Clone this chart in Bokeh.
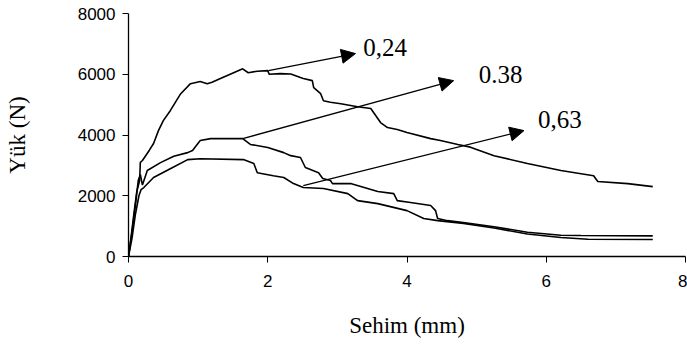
from bokeh.plotting import figure
from bokeh.models import Arrow, NormalHead, Label, Range1d, FixedTicker
from bokeh.embed import file_html
from bokeh.resources import INLINE

# Curve 0,24
x_024 = [0, 0.04, 0.08, 0.12, 0.16, 0.17, 0.2, 0.3, 0.36, 0.43, 0.5, 0.6, 0.75, 0.89, 1.03, 1.13, 1.2, 1.32,
         1.51, 1.64, 1.72, 1.85, 2.0, 2.02, 2.18, 2.33, 2.47, 2.51, 2.64, 2.66, 2.76, 2.8, 2.9, 3.05, 3.29,
         3.48, 3.55, 3.62, 3.72, 3.86, 4.0, 4.34, 4.48, 4.73, 4.91, 5.25, 5.73, 6.21, 6.68, 6.74, 7.17, 7.53]
y_024 = [0, 700, 1450, 2150, 2500, 3100, 3160, 3500, 3720, 4145, 4474, 4800, 5360, 5690, 5760, 5690, 5740, 5860,
         6050, 6180, 6050, 6100, 6120, 6000, 6020, 6010, 5890, 5860, 5790, 5560, 5360, 5130, 5080, 5030, 4930,
         4870, 4640, 4410, 4245, 4180, 4080, 3880, 3820, 3690, 3600, 3320, 3060, 2830, 2660, 2470, 2400, 2300]

# Curve 0.38
x_038 = [0, 0.05, 0.1, 0.14, 0.17, 0.2, 0.27, 0.46, 0.65, 0.85, 0.92, 1.03, 1.18, 1.56, 1.64, 1.75, 2.0, 2.23,
         2.33, 2.47, 2.54, 2.73, 2.79, 2.9, 2.93, 3.19, 3.58, 3.81, 3.86, 4.05, 4.34, 4.41, 4.44, 4.58, 4.81,
         5.25, 5.73, 6.21, 6.5, 7.53]
y_038 = [0, 800, 1700, 2500, 2700, 2350, 2830, 3090, 3300, 3420, 3490, 3820, 3880, 3880, 3880, 3690, 3590, 3420,
         3320, 3260, 2930, 2760, 2570, 2500, 2400, 2400, 2140, 2070, 1840, 1780, 1680, 1510, 1250, 1180, 1120,
         980, 800, 700, 690, 680]

# Curve 0,63
x_063 = [0, 0.05, 0.1, 0.15, 0.18, 0.22, 0.36, 0.6, 0.85, 1.03, 1.65, 1.8, 1.85, 2.08, 2.23, 2.37, 2.51, 2.8,
         3.15, 3.29, 3.58, 4.0, 4.24, 4.44, 4.81, 5.25, 5.73, 6.21, 6.6, 7.53]
y_063 = [0, 600, 1400, 2000, 2200, 2270, 2600, 2890, 3190, 3220, 3190, 3060, 2760, 2660, 2600, 2400, 2270, 2240,
         2070, 1840, 1740, 1510, 1250, 1180, 1090, 940, 740, 625, 570, 560]

# annotation arrows: label, start, end, text position
ann_labels = ["0,24", "0.38", "0,63"]
ann_start_x = [2.01, 1.64, 2.51]
ann_start_y = [6120, 3880, 2335]
ann_end_x = [3.26, 4.67, 5.68]
ann_end_y = [6680, 5790, 4145]
ann_text_x = [3.37, 5.03, 5.88]
ann_text_y = [6880, 5990, 4510]

x_ticks = [0, 2, 4, 6, 8]
y_ticks = [0, 2000, 4000, 6000, 8000]

p = figure(width=687, height=344, output_backend="svg", toolbar_location=None,
           x_range=Range1d(0, 8), y_range=Range1d(0, 8000),
           min_border_left=128, min_border_right=2, min_border_top=13, min_border_bottom=88)
p.outline_line_color = None
p.xgrid.visible = False
p.ygrid.visible = False
p.background_fill_color = "white"

for xs, ys in [(x_024, y_024), (x_038, y_038), (x_063, y_063)]:
    p.line(xs, ys, line_color="black", line_width=1.6)

for i in range(len(ann_labels)):
    p.add_layout(Arrow(end=NormalHead(size=14, fill_color="black", line_color="black"),
                       x_start=ann_start_x[i], y_start=ann_start_y[i],
                       x_end=ann_end_x[i], y_end=ann_end_y[i],
                       line_color="black", line_width=1.3))
    p.add_layout(Label(x=ann_text_x[i], y=ann_text_y[i], text=ann_labels[i],
                       text_font="Liberation Serif", text_font_size="25px",
                       text_align="left", text_baseline="middle", text_color="black"))

for ax in (p.xaxis[0], p.yaxis[0]):
    ax.major_label_text_font = "Liberation Sans"
    ax.major_label_text_font_size = "17px"
    ax.major_label_text_color = "black"
    ax.axis_label_text_font = "Liberation Serif"
    ax.axis_label_text_font_size = "23px"
    ax.axis_label_text_font_style = "normal"
    ax.axis_label_text_color = "black"
    ax.axis_line_color = "black"
    ax.axis_line_width = 1.3
    ax.major_tick_line_color = "black"
    ax.major_tick_in = 0
    ax.major_tick_out = 6
    ax.minor_tick_line_color = None

p.xaxis.ticker = FixedTicker(ticks=x_ticks)
p.yaxis.ticker = FixedTicker(ticks=y_ticks)
p.xaxis.axis_label = "Sehim (mm)"
p.yaxis.axis_label = "Yük (N)"
p.xaxis.major_label_standoff = 12
p.xaxis.axis_label_standoff = 23
p.yaxis.major_label_standoff = 7
p.yaxis.axis_label_standoff = 45

open("out.html", "w").write(file_html(p, INLINE))
